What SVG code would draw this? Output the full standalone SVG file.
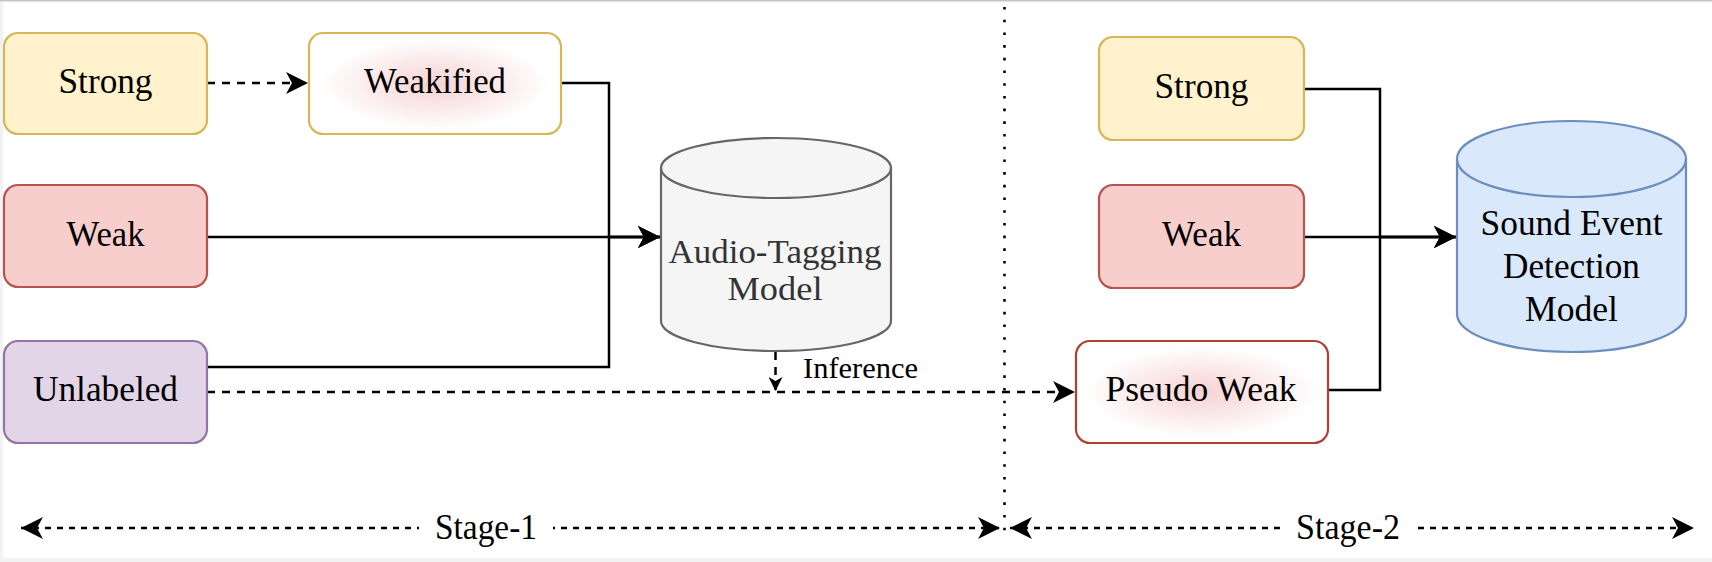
<svg xmlns="http://www.w3.org/2000/svg" width="1712" height="562" viewBox="0 0 1712 562">
<style>
.t{font-family:'Liberation Serif','DejaVu Serif',serif;fill:#000;}
.lbl{font-size:36px;text-anchor:middle;}
.box{stroke-width:2.2;}
.conn{fill:none;stroke:#000;stroke-width:2.5;}
.dash{stroke-dasharray:8 7;}
</style>
<defs>
<marker id="arr" markerUnits="userSpaceOnUse" viewBox="0 0 22 22" refX="22" refY="11" markerWidth="22" markerHeight="22" orient="auto-start-reverse">
<path d="M0,0 L22,11 L0,22 L6,11 Z" fill="#000"/>
</marker>
<marker id="arrs" markerUnits="userSpaceOnUse" viewBox="0 0 14 14" refX="14" refY="7" markerWidth="14" markerHeight="14" orient="auto">
<path d="M0,0 L14,7 L0,14 L4,7 Z" fill="#000"/>
</marker>
<radialGradient id="glow" cx="0.5" cy="0.5" r="0.5">
<stop offset="0" stop-color="#f6d2d2"/>
<stop offset="0.45" stop-color="#fae6e6"/>
<stop offset="1" stop-color="#ffffff"/>
</radialGradient>
</defs>
<rect x="0" y="0" width="1712" height="562" fill="#ffffff"/>
<rect x="0" y="0" width="3" height="562" fill="#f2f2f2"/>
<rect x="0" y="558" width="1712" height="4" fill="#f2f2f2"/>
<rect x="0" y="0" width="1712" height="1.5" fill="#c4c4c4"/>

<g id="connectors">
<path class="conn dash" d="M207,83 L308,83" marker-end="url(#arr)"/>
<path class="conn" d="M561,83 L609,83 L609,237 L660,237" marker-end="url(#arr)"/>
<path class="conn" d="M207,237 L660,237" marker-end="url(#arr)"/>
<path class="conn" d="M207,367 L609,367 L609,237 L660,237" marker-end="url(#arr)"/>
<path class="conn dash" d="M207,392 L1075,392" marker-end="url(#arr)"/>
<path class="conn dash" d="M775.5,352 L775.5,391" marker-end="url(#arrs)"/>
<path class="conn" d="M1304,89 L1380,89 L1380,237 L1456,237" marker-end="url(#arr)"/>
<path class="conn" d="M1304,237 L1456,237" marker-end="url(#arr)"/>
<path class="conn" d="M1328,390 L1380,390 L1380,237 L1456,237" marker-end="url(#arr)"/>
<path d="M1004.5,7 L1004.5,532" fill="none" stroke="#000" stroke-width="2.6" stroke-dasharray="2.6 10.1"/>
<path class="conn" style="stroke-width:2.4;stroke-dasharray:6 6" d="M21,528 L1000,528" marker-start="url(#arr)" marker-end="url(#arr)"/>
<path class="conn" style="stroke-width:2.4;stroke-dasharray:6 6" d="M1010,528 L1694,528" marker-start="url(#arr)" marker-end="url(#arr)"/>
<text class="t" x="803" y="378" font-size="29" textLength="115" lengthAdjust="spacingAndGlyphs">Inference</text>
</g>

<g id="stage1">
<rect x="419" y="505" width="134" height="46" fill="#fff"/>
<text class="t lbl" x="486" y="539" textLength="102" lengthAdjust="spacingAndGlyphs">Stage-1</text>
</g>
<g id="stage2">
<rect x="1280" y="505" width="136" height="46" fill="#fff"/>
<text class="t lbl" x="1348" y="539" textLength="104" lengthAdjust="spacingAndGlyphs">Stage-2</text>
</g>

<g id="strong1">
<rect class="box" x="4" y="33" width="203" height="101" rx="14" fill="#fff2cc" stroke="#d6b656"/>
<text class="t lbl" x="105.5" y="93" textLength="94" lengthAdjust="spacingAndGlyphs">Strong</text>
</g>
<g id="weakified">
<rect class="box" x="309" y="33" width="252" height="101" rx="14" fill="#fff" stroke="#d6b656"/>
<ellipse cx="435" cy="84" rx="115" ry="46" fill="url(#glow)"/>
<text class="t lbl" x="435" y="93" textLength="142" lengthAdjust="spacingAndGlyphs">Weakified</text>
</g>
<g id="weak1">
<rect class="box" x="4" y="185" width="203" height="102" rx="14" fill="#f8cecc" stroke="#b85450"/>
<text class="t lbl" x="105.5" y="246" textLength="78" lengthAdjust="spacingAndGlyphs">Weak</text>
</g>
<g id="unlabeled">
<rect class="box" x="4" y="341" width="203" height="102" rx="14" fill="#e1d5e7" stroke="#9673a6"/>
<text class="t lbl" x="105.5" y="401" textLength="145" lengthAdjust="spacingAndGlyphs">Unlabeled</text>
</g>
<g id="audio-tagging">
<path d="M661,168 A115,30 0 0 1 891,168 L891,321 A115,30 0 0 1 661,321 Z" fill="#f5f5f5" stroke="#666666" stroke-width="2.2"/>
<path d="M661,168 A115,30 0 0 0 891,168" fill="none" stroke="#666666" stroke-width="2.2"/>
<text class="t lbl" x="775" y="263" style="fill:#333333;font-size:34px" textLength="213" lengthAdjust="spacingAndGlyphs">Audio-Tagging</text>
<text class="t lbl" x="775" y="300" style="fill:#333333;font-size:34px" textLength="95" lengthAdjust="spacingAndGlyphs">Model</text>
</g>

<g id="strong2">
<rect class="box" x="1099" y="37" width="205" height="103" rx="14" fill="#fff2cc" stroke="#d6b656"/>
<text class="t lbl" x="1201.5" y="98" textLength="94" lengthAdjust="spacingAndGlyphs">Strong</text>
</g>
<g id="weak2">
<rect class="box" x="1099" y="185" width="205" height="103" rx="14" fill="#f8cecc" stroke="#b85450"/>
<text class="t lbl" x="1201.5" y="246" textLength="79" lengthAdjust="spacingAndGlyphs">Weak</text>
</g>
<g id="pseudo-weak">
<rect class="box" x="1076" y="341" width="252" height="102" rx="14" fill="#fff" stroke="#ae4132"/>
<ellipse cx="1202" cy="392" rx="118" ry="46" fill="url(#glow)"/>
<text class="t lbl" x="1201" y="401" textLength="191" lengthAdjust="spacingAndGlyphs">Pseudo Weak</text>
</g>
<g id="sed">
<path d="M1457,159 A114.5,38 0 0 1 1686,159 L1686,314 A114.5,38 0 0 1 1457,314 Z" fill="#dae8fc" stroke="#6c8ebf" stroke-width="2.2"/>
<path d="M1457,159 A114.5,38 0 0 0 1686,159" fill="none" stroke="#6c8ebf" stroke-width="2.2"/>
<text class="t lbl" x="1571.5" y="235" textLength="182" lengthAdjust="spacingAndGlyphs">Sound Event</text>
<text class="t lbl" x="1571.5" y="278" textLength="137" lengthAdjust="spacingAndGlyphs">Detection</text>
<text class="t lbl" x="1571.5" y="321" textLength="93" lengthAdjust="spacingAndGlyphs">Model</text>
</g>
</svg>
